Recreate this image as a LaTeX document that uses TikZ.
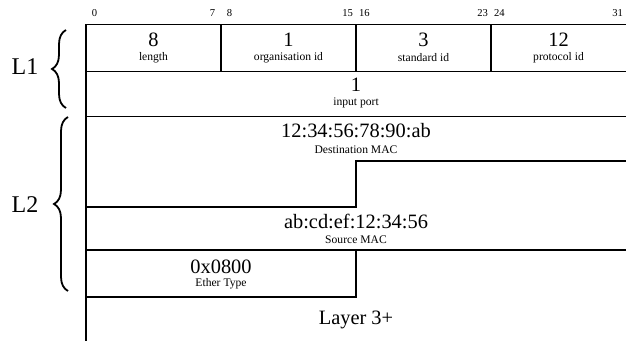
\documentclass[tikz,border=0pt]{standalone}
\usepackage{fontspec}
\setmainfont{Liberation Serif}
\usetikzlibrary{decorations.pathreplacing}

\tikzset{
  bitnum/.style={inner sep=0pt, font=\fontsize{5.3}{6}\selectfont},
  fval/.style={inner sep=0pt, font=\fontsize{10.2}{11}\selectfont},
  fname/.style={inner sep=0pt, font=\fontsize{5.8}{6.5}\selectfont},
  layer/.style={inner sep=0pt, font=\fontsize{12}{13}\selectfont},
  brc/.style={decorate, decoration={brace, amplitude=7pt}, line width=0.9pt},
}

\begin{document}
\begin{tikzpicture}[x=0.5pt, y=-0.5pt, line width=0.6pt]
\useasboundingbox (0,0) rectangle (626,341);
%
% layer labels and braces
\node[layer] (l1) at (25,67) {L1};
\coordinate (l1top) at (66,30);
\coordinate (l1bot) at (66,108);
\draw[brc] (l1bot) -- (l1top);
\node[layer] (l2) at (25,205) {L2};
\coordinate (l2top) at (68,117);
\coordinate (l2bot) at (68,291);
\draw[brc] (l2bot) -- (l2top);
%
\begin{scope}[xshift=43pt, x=8.4375pt]
% bit numbers
\foreach \b in {0,7,8,15,16,23,24,31}
  \node[bitnum] (bit\b) at (\b+0.5,13) {\b};
% frame and row lines
\draw (0,341) -- (0,24.5) -- (32,24.5);
\draw (0,71.5) -- (32,71.5);
\draw (0,116.5) -- (32,116.5);
\foreach \b in {8,16,24}
  \draw (\b,24.5) -- (\b,71.5);
% Destination MAC runs on into the next row
\draw (32,161) -- (16,161) -- (16,207) -- (0,207);
\draw (0,250) -- (32,250);
% Ether Type
\draw (16,250) -- (16,297) -- (0,297);
%
% L1 fields
\node[fval] (len) at (4,40) {8};
\node[fname] (lenname) at (4,58) {length};
\node[fval] (org) at (12,40) {1};
\node[fname] (orgname) at (12,58) {organisation id};
\node[fval] (std) at (20,40) {3};
\node[fname] (stdname) at (20,58) {standard id};
\node[fval] (proto) at (28,40) {12};
\node[fname] (protoname) at (28,58) {protocol id};
\node[fval] (port) at (16,85) {1};
\node[fname] (portname) at (16,103) {input port};
%
% L2 fields
\node[fval] (dmac) at (16,131) {12:34:56:78:90:ab};
\node[fname] (dmacname) at (16,150) {Destination MAC};
\node[fval] (smac) at (16,221) {ab:cd:ef:12:34:56};
\node[fname] (smacname) at (16,240) {Source MAC};
\node[fval] (etype) at (8,267) {0x0800};
\node[fname] (etypename) at (8,284) {Ether Type};
%
\node[fval] (l3) at (16,320) {Layer 3+};
\end{scope}
\end{tikzpicture}
\end{document}
